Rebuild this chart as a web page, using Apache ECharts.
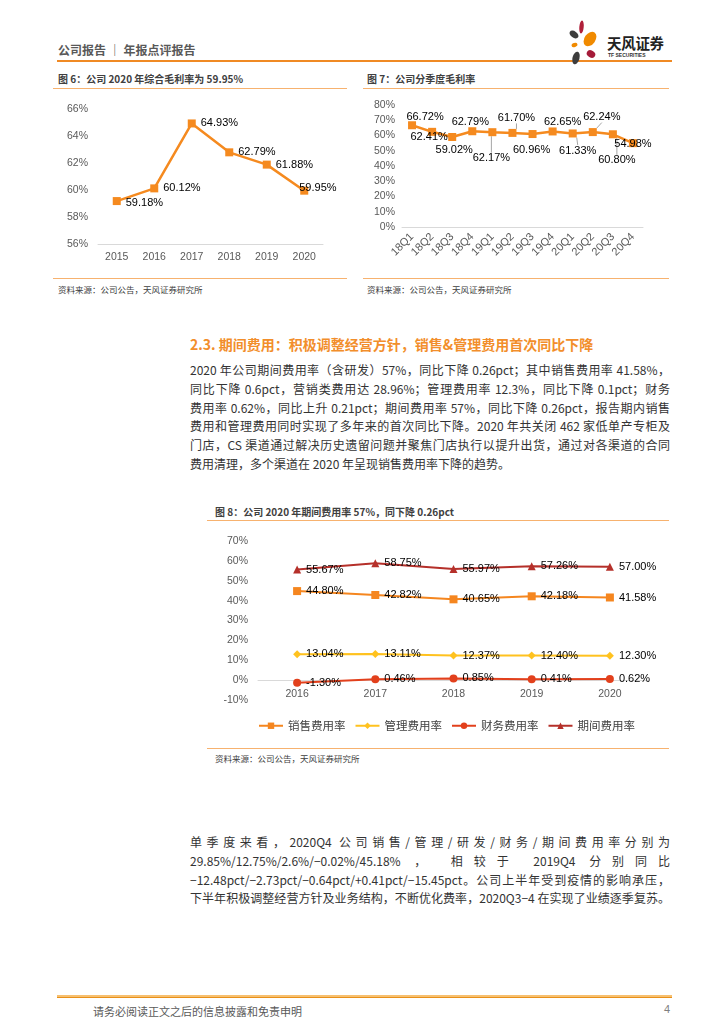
<!DOCTYPE html>
<html>
<head>
<meta charset="utf-8">
<script src="https://cdn.jsdelivr.net/npm/echarts@6/dist/echarts.min.js"></script>
<style>
  html, body { margin:0; padding:0; background:#fff; }
  body { width:724px; height:1024px; position:relative; overflow:hidden; font-family:"Noto Sans CJK SC","Noto Sans",sans-serif; }
  .abs { position:absolute; }
  .hdr { left:58px; top:41px; font-size:12px; color:#595959; font-weight:bold; }
  .figt { font-size:10px; color:#404040; font-weight:bold; white-space:nowrap; }
  .src { font-size:8.5px; color:#404040; white-space:nowrap; }
  .oline { height:1px; background:#F7B26F; }
  .h2 { left:190px; top:334px; font-size:14px; font-weight:bold; color:#F28E2B; white-space:nowrap; }
  .para { left:190px; width:480px; font-size:12px; color:#333; }
  .para div { height:18.8px; line-height:18.8px; white-space:nowrap; text-align:justify; text-align-last:justify; }
  .para div.last { text-align-last:left; }
  .chart { position:absolute; }
</style>
</head>
<body>
<script>
// ---- data ----
const years6 = ['2015','2016','2017','2018','2019','2020'];
const gross6 = [59.18, 60.12, 64.93, 62.79, 61.88, 59.95];

const quarters7 = ['18Q1','18Q2','18Q3','18Q4','19Q1','19Q2','19Q3','19Q4','20Q1','20Q2','20Q3','20Q4'];
const gross7 = [66.72, 62.41, 59.02, 62.79, 62.17, 61.70, 60.96, 62.65, 61.33, 62.24, 60.80, 54.98];

const years8 = ['2016','2017','2018','2019','2020'];
const salesRate = [44.80, 42.82, 40.65, 42.18, 41.58];
const adminRate = [13.04, 13.11, 12.37, 12.40, 12.30];
const finRate = [-1.30, 0.46, 0.85, 0.41, 0.62];
const periodRate = [55.67, 58.75, 55.97, 57.26, 57.00];
const seriesNames8 = ['销售费用率','管理费用率','财务费用率','期间费用率'];
</script>

<!-- header -->
<div class="abs hdr">公司报告 ｜ 年报点评报告</div>
<div class="abs" style="left:57px;top:60px;width:615px;height:2px;background:#F08A24;"></div>
<svg class="abs" style="left:566px;top:19px;" width="44" height="48" viewBox="0 0 44 48">
  <ellipse cx="15.5" cy="8" rx="2.2" ry="6.5" fill="#B0203A" transform="rotate(5 15.5 8)"/>
  <ellipse cx="8" cy="15.5" rx="5" ry="3.2" fill="#3D3D3D" transform="rotate(35 8 15.5)"/>
  <ellipse cx="24" cy="20" rx="5.5" ry="8" fill="#F08A00" transform="rotate(35 24 20)"/>
  <ellipse cx="8.5" cy="26" rx="3" ry="2" fill="#F08A00" transform="rotate(-20 8.5 26)"/>
  <ellipse cx="25" cy="35" rx="4.5" ry="3.5" fill="#A51C3A" transform="rotate(30 25 35)"/>
  <ellipse cx="10" cy="39" rx="3.5" ry="6.5" fill="#3D3D3D" transform="rotate(15 10 39)"/>
</svg>
<div class="abs" style="left:607px;top:32px;font-size:14.5px;font-weight:bold;color:#222;letter-spacing:-0.3px;white-space:nowrap;">天风证券</div>
<div class="abs" style="left:608px;top:52px;font-size:5px;font-weight:bold;color:#333;white-space:nowrap;font-family:'Liberation Sans',sans-serif;">TF SECURITIES</div>

<!-- figure titles -->
<div class="abs figt" style="left:58px;top:71px;">图 6：公司 2020 年综合毛利率为 59.95%</div>
<div class="abs oline" style="left:53px;top:88px;width:294px;"></div>
<div class="abs figt" style="left:367px;top:71px;">图 7：公司分季度毛利率</div>
<div class="abs oline" style="left:363px;top:88px;width:306px;"></div>

<div id="c6" class="chart" style="left:53px;top:95px;width:294px;height:180px;"></div>
<div id="c7" class="chart" style="left:363px;top:95px;width:306px;height:180px;"></div>

<div class="abs oline" style="left:53px;top:278px;width:294px;"></div>
<div class="abs src" style="left:58px;top:283px;">资料来源：公司公告，天风证券研究所</div>
<div class="abs oline" style="left:363px;top:278px;width:306px;"></div>
<div class="abs src" style="left:367px;top:283px;">资料来源：公司公告，天风证券研究所</div>

<!-- section -->
<div class="abs h2">2.3. 期间费用：积极调整经营方针，销售&amp;管理费用首次同比下降</div>
<div class="abs para" style="top:361px;">
  <div>2020 年公司期间费用率（含研发）57%，同比下降 0.26pct；其中销售费用率 41.58%，</div>
  <div>同比下降 0.6pct，营销类费用达 28.96%；管理费用率 12.3%，同比下降 0.1pct；财务</div>
  <div>费用率 0.62%，同比上升 0.21pct；期间费用率 57%，同比下降 0.26pct，报告期内销售</div>
  <div>费用和管理费用同时实现了多年来的首次同比下降。2020 年共关闭 462 家低单产专柜及</div>
  <div>门店，CS 渠道通过解决历史遗留问题并聚焦门店执行以提升出货，通过对各渠道的合同</div>
  <div class="last">费用清理，多个渠道在 2020 年呈现销售费用率下降的趋势。</div>
</div>

<div class="abs figt" style="left:215px;top:504px;">图 8：公司 2020 年期间费用率 57%，同下降 0.26pct</div>
<div class="abs oline" style="left:207px;top:520px;width:462px;"></div>
<div id="c8" class="chart" style="left:207px;top:525px;width:480px;height:218px;"></div>
<div class="abs oline" style="left:207px;top:748px;width:462px;"></div>
<div class="abs src" style="left:215px;top:752px;">资料来源：公司公告，天风证券研究所</div>

<div class="abs para" style="top:833px;">
  <div>单季度来看，2020Q4 公司销售/管理/研发/财务/期间费用率分别为</div>
  <div>29.85%/12.75%/2.6%/−0.02%/45.18% ， 相较于 2019Q4 分别同比</div>
  <div>−12.48pct/−2.73pct/−0.64pct/+0.41pct/−15.45pct。公司上半年受到疫情的影响承压，</div>
  <div>下半年积极调整经营方针及业务结构，不断优化费率，2020Q3−4 在实现了业绩逐季复苏。</div>
</div>

<!-- footer -->
<div class="abs" style="left:57px;top:995px;width:615px;height:1.5px;background:#F7C06F;"></div>
<div class="abs" style="left:57px;top:996.5px;width:615px;height:1.5px;background:#E8901A;"></div>
<div class="abs" style="left:93px;top:1003px;font-size:11px;color:#595959;white-space:nowrap;">请务必阅读正文之后的信息披露和免责申明</div>
<div class="abs" style="left:664px;top:1003px;font-size:11px;color:#7f7f7f;font-family:'Liberation Sans',sans-serif;">4</div>

<script>
const NUM = "'Liberation Sans', Arial, sans-serif";
const axisGray = '#595959';
const pct = v => v.toFixed(2) + '%';

// ---- chart 6 ----
const c6 = echarts.init(document.getElementById('c6'), null, {renderer:'canvas'});
const off6 = [[0,2],[0,0],[0,0],[0,0],[0,0],[-14,-3]];
c6.setOption({
  animation:false,
  grid:{left:45, right:24, top:14, bottom:31},
  xAxis:{type:'category', data:years6, boundaryGap:true,
    axisLine:{lineStyle:{color:'#d9d9d9'}}, axisTick:{show:false},
    axisLabel:{color:axisGray, fontSize:10.5, fontFamily:NUM, margin:8}},
  yAxis:{type:'value', min:56, max:66, interval:2, splitLine:{show:false},
    axisLine:{show:false}, axisTick:{show:false},
    axisLabel:{color:axisGray, fontSize:10.5, fontFamily:NUM, formatter:'{value}%', margin:10}},
  series:[{type:'line', data:gross6.map((v,i)=>({value:v, label:{offset:off6[i]}})),
    symbol:'rect', symbolSize:8, lineStyle:{color:'#F58A1F', width:2.5},
    itemStyle:{color:'#F58A1F'},
    label:{show:true, position:'right', distance:5, color:'#000', fontSize:11, fontFamily:NUM,
      formatter:p=>pct(p.value)}}]
});

// ---- chart 7 ----
const c7 = echarts.init(document.getElementById('c7'), null, {renderer:'canvas'});
const off7 = [[13,-8],[-3,5],[2,13],[-2,-9],[-1,26],[4,-15],[-1,16],[10,-9],[5,17],[9,-15],[4,26],[0,1]];
const lead7 = [false,false,false,false,true,true,false,false,true,true,true,false];
c7.setOption({
  animation:false,
  grid:{left:39, right:26, top:10, bottom:48},
  xAxis:{type:'category', data:quarters7, boundaryGap:true,
    axisLine:{lineStyle:{color:'#d9d9d9'}}, axisTick:{show:false},
    axisLabel:{color:axisGray, fontSize:11, fontFamily:NUM, rotate:45, margin:8, interval:0}},
  yAxis:{type:'value', min:0, max:80, interval:10, splitLine:{show:false},
    axisLine:{show:false}, axisTick:{show:false},
    axisLabel:{color:axisGray, fontSize:10.5, fontFamily:NUM, formatter:'{value}%', margin:7}},
  series:[{type:'line', data:gross7.map((v,i)=>({value:v, labelLine:{show:lead7[i]}})),
    symbol:'rect', symbolSize:8, lineStyle:{color:'#F58A1F', width:2.5},
    itemStyle:{color:'#F58A1F'},
    label:{show:true, position:'inside', color:'#000', fontSize:11, fontFamily:NUM,
      formatter:p=>pct(p.value)},
    labelLine:{show:false, lineStyle:{color:'#a6a6a6', width:1}},
    labelLayout:p=>({dx:off7[p.dataIndex][0], dy:off7[p.dataIndex][1]})
  }]
});

// ---- chart 8 ----
const c8 = echarts.init(document.getElementById('c8'), null, {renderer:'canvas'});
const colors8 = ['#F5861F','#FFC21F','#E2401C','#B5302A'];
const symbols8 = ['rect','diamond','circle','triangle'];
const sizes8 = [8,8,8,8];
const data8 = [salesRate, adminRate, finRate, periodRate];
c8.setOption({
  animation:false,
  legend:{top:190, left:46, itemWidth:24, itemHeight:8, itemGap:9,
    textStyle:{color:'#404040', fontSize:11.5, fontFamily:"'Noto Sans CJK SC', sans-serif"},
    data:seriesNames8},
  grid:{left:51, right:38, top:16, bottom:43},
  xAxis:{type:'category', data:years8, boundaryGap:true,
    axisLine:{onZero:true, lineStyle:{color:'#d9d9d9'}}, axisTick:{show:false},
    axisLabel:{color:axisGray, fontSize:10.5, fontFamily:NUM, margin:-11}},
  yAxis:{type:'value', min:-10, max:70, interval:10, splitLine:{show:false},
    axisLine:{show:false}, axisTick:{show:false},
    axisLabel:{color:axisGray, fontSize:10.5, fontFamily:NUM, formatter:'{value}%', margin:10}},
  series:data8.map((d,k)=>({
    name:seriesNames8[k], type:'line', data:d,
    symbol:symbols8[k], symbolSize:sizes8[k],
    lineStyle:{color:colors8[k], width:2}, itemStyle:{color:colors8[k]},
    label:{show:true, position:'right', distance:5, color:'#000', fontSize:11, fontFamily:NUM,
      formatter:p=>pct(p.value)}
  }))
});
</script>
</body>
</html>
